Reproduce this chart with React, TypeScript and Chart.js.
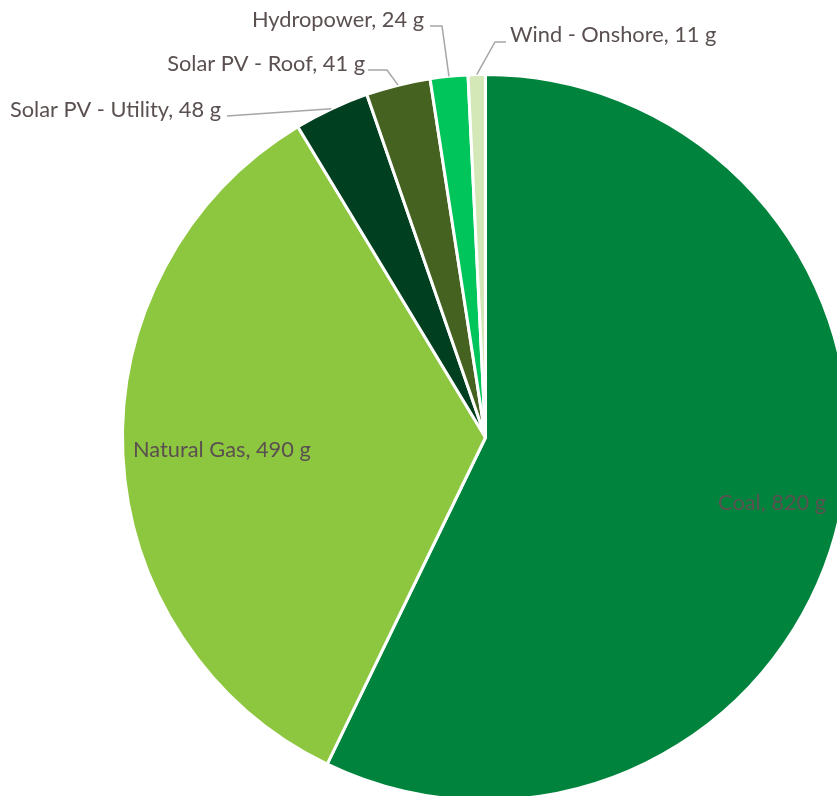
import React, { useEffect, useRef } from "react";
import { Chart, registerables } from "chart.js";

Chart.register(...registerables);

const categories = ["Coal", "Natural Gas", "Solar PV - Utility", "Solar PV - Roof", "Hydropower", "Wind - Onshore"];
const values = [820, 490, 48, 41, 24, 11];
const unit = "g";
const colors = ["#00843D", "#8DC63F", "#003F1F", "#456221", "#00C55A", "#D3E7B7"];

// layout of the data labels (canvas pixels)
const insideRadiusFraction: Record<number, number> = { 0: 0.81, 1: 0.727 };
const outsideLabels: Record<number, { tx: number; ty: number; align: "left" | "right"; line: [number, number][] }> = {
  2: { tx: 221, ty: 117, align: "right", line: [[227, 116]] },
  3: { tx: 365, ty: 71, align: "right", line: [[368, 70], [387, 70]] },
  4: { tx: 424, ty: 27, align: "right", line: [[430, 26], [442, 26]] },
  5: { tx: 510, ty: 42, align: "left", line: [[506, 42], [495, 42]] },
};

const FONT = '21.8px Lato, "Open Sans", sans-serif';
const TEXT_COLOR = "#5A5050";

const labelPlugin = {
  id: "pieLabels",
  afterDatasetsDraw(chart: any) {
    const ctx = chart.ctx as CanvasRenderingContext2D;
    const meta = chart.getDatasetMeta(0);
    ctx.save();
    ctx.font = FONT;
    ctx.fillStyle = TEXT_COLOR;
    meta.data.forEach((arc: any, i: number) => {
      const text = `${categories[i]}, ${values[i]} ${unit}`;
      const mid = (arc.startAngle + arc.endAngle) / 2;
      const R = arc.outerRadius;
      if (insideRadiusFraction[i] !== undefined) {
        const k = insideRadiusFraction[i];
        const x = arc.x + Math.cos(mid) * R * k;
        const y = arc.y + Math.sin(mid) * R * k;
        ctx.textAlign = "center";
        ctx.textBaseline = "middle";
        ctx.fillText(text, x, y);
      } else if (outsideLabels[i]) {
        const o = outsideLabels[i];
        const ax = arc.x + Math.cos(mid) * R;
        const ay = arc.y + Math.sin(mid) * R;
        ctx.strokeStyle = "#A6A6A6";
        ctx.lineWidth = 1.5;
        ctx.beginPath();
        ctx.moveTo(o.line[0][0], o.line[0][1]);
        for (let j = 1; j < o.line.length; j++) ctx.lineTo(o.line[j][0], o.line[j][1]);
        ctx.lineTo(ax, ay);
        ctx.stroke();
        ctx.textAlign = o.align;
        ctx.textBaseline = "alphabetic";
        ctx.fillText(text, o.tx, o.ty);
      }
    });
    ctx.restore();
  },
};

export default function App() {
  const ref = useRef<HTMLCanvasElement>(null);
  useEffect(() => {
    if (!ref.current) return;
    const chart = new Chart(ref.current, {
      type: "pie",
      data: {
        labels: categories,
        datasets: [
          {
            data: values,
            backgroundColor: colors,
            borderColor: "#FFFFFF",
            borderWidth: 3,
          },
        ],
      },
      options: {
        responsive: false,
        animation: false,
        layout: { padding: { left: 121, right: 120, top: 73, bottom: 72 } },
        plugins: {
          legend: { display: false },
          tooltip: { enabled: false },
        },
      },
      plugins: [labelPlugin],
    });
    return () => chart.destroy();
  }, []);
  return (
    <div style={{ position: "absolute", left: 0, top: 0, width: 837, height: 796, overflow: "hidden", background: "#fff" }}>
      <canvas ref={ref} width={970} height={874} style={{ display: "block" }} />
    </div>
  );
}
